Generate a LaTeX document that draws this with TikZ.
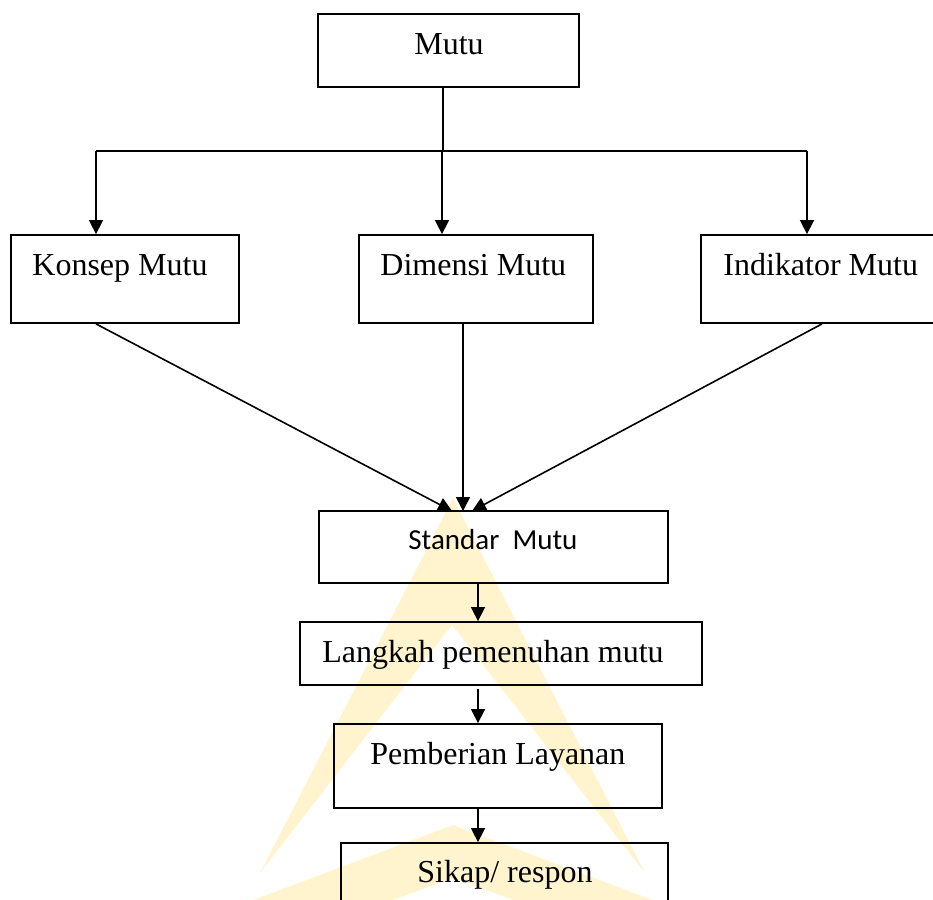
\documentclass[tikz,border=0pt]{standalone}
\usepackage{fontspec}
\setmainfont{Liberation Serif}
\newfontfamily\calibri{Carlito}
\usetikzlibrary{arrows.meta,calc}

\definecolor{wmyellow}{RGB}{255,244,206}

\begin{document}
\begin{tikzpicture}[
  x=0.5pt, y=-0.5pt,
  box/.style={
    draw, line width=0.9pt, inner sep=0pt, minimum height=44pt
  },
  txt/.style={
    inner sep=0pt, font=\fontsize{16}{19}\selectfont
  },
  arrow/.style={-{Triangle[length=7pt,width=7pt]}, line width=0.8pt},
  line/.style={line width=0.8pt}
]
\clip (0,0) rectangle (933,900);

% watermark
\fill[wmyellow] (260,873) -- (453,498) -- (645,873) -- (452,625) -- cycle;
\fill[wmyellow] (240,905) -- (453,825) -- (666,905) -- (527,905) -- (453,878) -- (379,905) -- cycle;

% boxes
\node[box, minimum width=130.5pt, minimum height=36.5pt] (mutu) at (448.5,50.5) {};
\node[box, minimum width=114pt] (konsep) at (125,279) {};
\node[box, minimum width=117pt] (dimensi) at (476,279) {};
\node[box, minimum width=119.5pt] (indikator) at (820.5,279) {};
\node[box, minimum width=174.5pt, minimum height=36pt] (standar) at (493.5,547) {};
\node[box, minimum width=201pt, minimum height=31.5pt] (langkah) at (501,653.5) {};
\node[box, minimum width=164pt, minimum height=42pt] (layanan) at (498,766) {};
\node[box, minimum width=163.5pt, minimum height=48.5pt] (sikap) at (504.5,891.5) {};

% texts
\node[txt, anchor=base] (mutu-txt) at (449,54) {Mutu};
\node[txt, anchor=base west] (konsep-txt) at (32,275) {Konsep Mutu};
\node[txt, anchor=base west] (dimensi-txt) at (380,275) {Dimensi Mutu};
\node[txt, anchor=base west] (indikator-txt) at (723,275) {Indikator Mutu};
\node[txt, anchor=base west, font=\calibri\fontsize{14.5}{17}\selectfont] (standar-txt) at (408,549) {Standar\ \ Mutu};
\node[txt, anchor=base west] (langkah-txt) at (322,662) {Langkah pemenuhan mutu};
\node[txt, anchor=base west] (layanan-txt) at (370,764) {Pemberian Layanan};
\node[txt, anchor=base west] (sikap-txt) at (417,882) {Sikap/ respon};

% branching
\coordinate (split) at (443,151);
\coordinate (dropK) at (96,151);
\coordinate (dropD) at (442,151);
\coordinate (dropI) at (807,151);
\draw[line] (mutu.south -| split) -- (split);
\draw[line] (dropK) -- (dropI);
\draw[arrow] (dropK) -- (dropK |- konsep.north);
\draw[arrow] (dropD) -- (dropD |- dimensi.north);
\draw[arrow] (dropI) -- (dropI |- indikator.north);

% into standar
\coordinate (outD) at (463,323);
\coordinate (outI) at (822,323);
\coordinate (inK) at (452,511);
\coordinate (inD) at (463,511);
\coordinate (inI) at (472,511);
\draw[arrow] (dropK |- konsep.south) -- (inK);
\draw[arrow] (outD |- dimensi.south) -- (inD);
\draw[arrow] (outI |- indikator.south) -- (inI);

% chain
\coordinate (spine) at (478,600);
\draw[arrow] (standar.south -| spine) -- (langkah.north -| spine);
\draw[arrow] ($(langkah.south -| spine)+(0,3)$) -- (layanan.north -| spine);
\draw[arrow] (layanan.south -| spine) -- (sikap.north -| spine);

\end{tikzpicture}
\end{document}
